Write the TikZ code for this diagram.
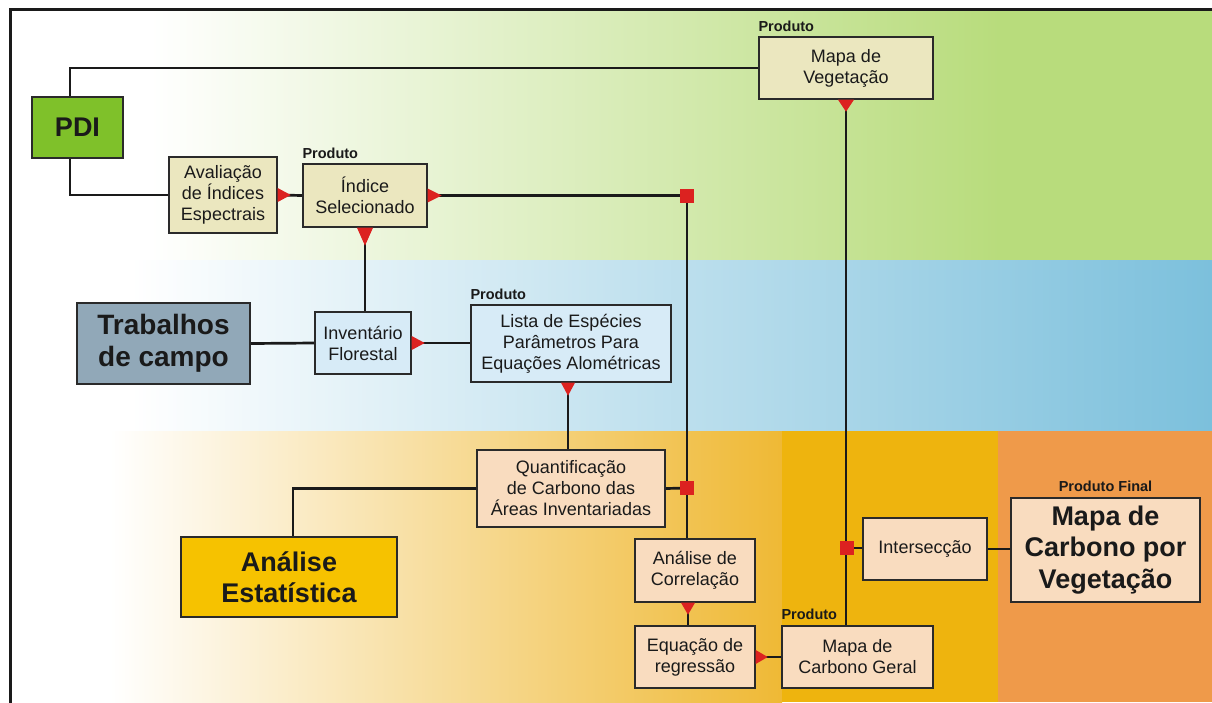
\documentclass[tikz,border=0pt]{standalone}
\usepackage{fontspec}
\setmainfont{Liberation Sans}
\usetikzlibrary{calc}
\definecolor{gband}{HTML}{B8DC7C}
\definecolor{bband}{HTML}{7CC0DC}
\definecolor{oband}{HTML}{EEB40E}
\definecolor{oleft}{HTML}{EFB935}
\definecolor{ored}{HTML}{EF9A4A}
\definecolor{beige}{HTML}{EBE7BF}
\definecolor{pdigreen}{HTML}{7FC12A}
\definecolor{trabblue}{HTML}{91A8B8}
\definecolor{lblue}{HTML}{D7EBF7}
\definecolor{peach}{HTML}{F9DCBF}
\definecolor{estyellow}{HTML}{F6C200}
\definecolor{mkred}{HTML}{DC2220}
\definecolor{ink}{HTML}{1A1A1A}
\definecolor{edge}{HTML}{2A2A2A}
\pgfdeclarelayer{bg}
\pgfdeclarelayer{lines}
\pgfsetlayers{bg,lines,main}
\begin{document}
\begin{tikzpicture}[x=1pt,y=-1pt,
  box/.style={draw=edge, line width=1.4pt, inner sep=0pt, align=center, text=ink,
    font=\fontsize{18}{21}\selectfont},
  bigbox/.style={draw=edge, line width=1.4pt, inner sep=0pt, align=center, text=ink,
    font=\bfseries\fontsize{27}{31.5}\selectfont},
  prod/.style={inner sep=0pt, anchor=base west, text=ink, font=\bfseries\fontsize{14.5}{16}\selectfont},
  conn/.style={draw=ink, line width=2.7pt},
  tri/.style={fill=mkred},
  sq/.style={fill=mkred, minimum size=14pt, inner sep=0pt}
]
\useasboundingbox (0,0) rectangle (1212,702);
\begin{pgfonlayer}{bg}
  \fill[white] (0,0) rectangle (1212,702);
  % green band
  \shade[left color=white, right color=gband] (150,10) rectangle (1000,260);
  \fill[gband] (999,10) rectangle (1212,260);
  % blue band
  \shade[left color=white, right color=bband] (130,260) rectangle (1212,431);
  % orange band
  \shade[left color=white, right color=oleft] (110,431) rectangle (782,702);
  \fill[oband] (781.5,431) rectangle (999,702);
  \fill[ored] (998,431) rectangle (1212,702);
\end{pgfonlayer}
% frame
\draw[draw=ink, line width=3pt] (10,703) -- (10,9) -- (1213,9);

% nodes
\node[box, fill=pdigreen, minimum width=91pt, minimum height=61pt,
  font=\bfseries\fontsize{27}{31}\selectfont] (pdi) at (77.5,127.5) {PDI};
\node[box, fill=beige, minimum width=108pt, minimum height=76pt] (ava) at (223,195) {Avaliação\\de Índices\\Espectrais};
\node[box, fill=beige, minimum width=124pt, minimum height=63pt] (ind) at (365,195.5) {Índice\\Selecionado};
\node[box, fill=beige, minimum width=174pt, minimum height=62pt] (veg) at (846,68) {Mapa de\\Vegetação};
\node[bigbox, fill=trabblue, minimum width=173pt, minimum height=81pt,
  font=\bfseries\fontsize{28}{32}\selectfont] (trab) at (163.5,343.5) {Trabalhos\\de campo};
\node[box, fill=lblue, minimum width=96pt, minimum height=62pt] (inv) at (363,343) {Inventário\\Florestal};
\node[box, fill=lblue, minimum width=200pt, minimum height=77pt] (lista) at (571,343.5) {Lista de Espécies\\Parâmetros Para\\Equações Alométricas};
\node[box, fill=peach, minimum width=188pt, minimum height=77pt] (quant) at (571,488.5) {Quantificação\\de Carbono das\\Áreas Inventariadas};
\node[bigbox, fill=estyellow, minimum width=216pt, minimum height=80pt] (est) at (289,577) {Análise\\Estatística};
\node[box, fill=peach, minimum width=120pt, minimum height=63pt] (cor) at (695,570.5) {Análise de\\Correlação};
\node[box, fill=peach, minimum width=120pt, minimum height=62pt] (equ) at (695,657) {Equação de\\regressão};
\node[box, fill=peach, minimum width=151pt, minimum height=62pt] (geral) at (857.5,657) {Mapa de\\Carbono Geral};
\node[box, fill=peach, minimum width=124pt, minimum height=62pt] (int) at (925,549) {Intersecção};
\node[bigbox, fill=peach, minimum width=189pt, minimum height=104pt] (final) at (1105.5,550) {Mapa de\\Carbono por\\Vegetação};

% product labels
\node[prod, yshift=4.5pt] (p1) at (ind.north west) {Produto};
\node[prod, yshift=4.5pt] (p2) at (veg.north west) {Produto};
\node[prod, yshift=4.5pt] (p3) at (lista.north west) {Produto};
\node[prod, yshift=6pt] (p4) at (geral.north west) {Produto};
\node[prod, anchor=base, yshift=6pt] (p5) at (final.north) {Produto Final};

% junction squares
\node[sq] (s1) at (687,196) {};
\node[sq] (s2) at (687,488) {};
\node[sq] (s3) at (847,548) {};

% connectors
\begin{pgfonlayer}{lines}
  \draw[conn] ([xshift=-7.5pt]pdi.north) |- (veg.west);
  \draw[conn] ([xshift=-7.5pt]pdi.south) |- (ava.west);
  \draw[conn] (ava.east) -- (ind.west);
  \draw[conn] (ind.east) -- (ind.east -| s1) -- (s1);
  \draw[conn] (s1) -- (s2) -- (s2 |- cor.north);
  \draw[conn] (ind.south) -- (ind.south |- inv.north);
  \draw[conn] (trab.east) -- (inv.west);
  \draw[conn] (inv.east) -- (inv.east -| lista.west);
  \draw[conn] ([xshift=-3pt]lista.south) -- ([xshift=-3pt]lista.south |- quant.north);
  \draw[conn] (quant.east) -- (s2);
  \draw[conn] (quant.west) -| ([xshift=4pt]est.north);
  \draw[conn] ([xshift=-7pt]cor.south) -- ([xshift=-7pt]equ.north);
  \draw[conn] (equ.east) -- (geral.west);
  \draw[conn] (veg.south) -- (veg.south |- geral.north);
  \draw[conn] (s3) -- (s3 -| int.west);
  \draw[conn] (int.east) -- (int.east -| final.west);
\end{pgfonlayer}

% red triangles
\fill[tri, shift={(ava.east)}] (0,-7) -- (13,0) -- (0,7) -- cycle;
\fill[tri, shift={(ind.east)}] (0,-7) -- (14,0) -- (0,7) -- cycle;
\fill[tri, shift={(inv.east)}] (0,-7) -- (13,0) -- (0,7) -- cycle;
\fill[tri, shift={(equ.east)}] (0,-7) -- (12,0) -- (0,7) -- cycle;
\fill[tri, shift={(ind.south)}] (-8,0) -- (0,18) -- (8,0) -- cycle;
\fill[tri, shift={(veg.south)}] (-8,0) -- (0,12) -- (8,0) -- cycle;
\fill[tri, shift={([xshift=-3pt]lista.south)}] (-7,0) -- (0,13) -- (7,0) -- cycle;
\fill[tri, shift={([xshift=-7pt]cor.south)}] (-7,0) -- (0,12) -- (7,0) -- cycle;
\end{tikzpicture}
\end{document}
